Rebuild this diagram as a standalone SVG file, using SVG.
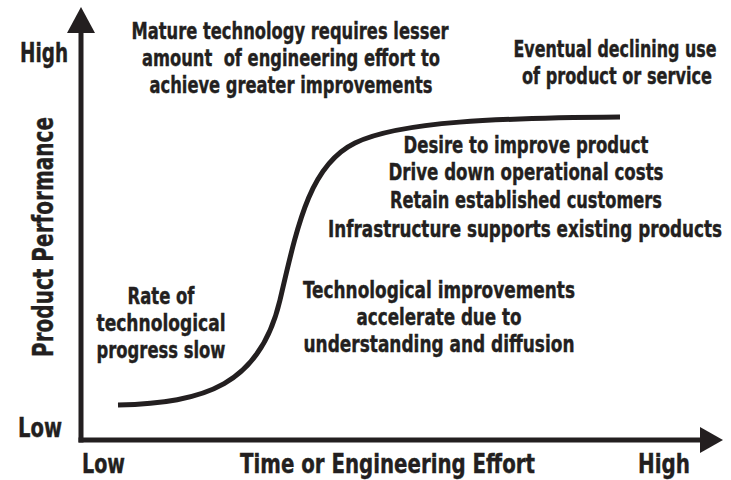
<svg xmlns="http://www.w3.org/2000/svg" width="731" height="480" viewBox="0 0 731 480">
<style>
text{font-family:"Liberation Sans Narrow","DejaVu Sans Condensed","Roboto Condensed","Liberation Sans",sans-serif;font-weight:bold;fill:#231f20;stroke:#231f20;stroke-width:0.4;}
.b{font-size:23.5px;text-anchor:middle;}
.l{font-size:27px;}
.ax{stroke:#231f20;stroke-width:5;fill:none;}
.hd{fill:#231f20;stroke:none;}
</style>
<rect width="731" height="480" fill="#ffffff"/>
<g id="axes">
<line class="ax" x1="81" y1="442.5" x2="81" y2="28"/>
<polygon class="hd" points="81,7 67,33 95,33"/>
<line class="ax" x1="78.5" y1="440" x2="704" y2="440"/>
<polygon class="hd" points="723,440 700,427 700,453"/>
</g>
<g id="connectors">
<path id="s-curve" class="ax" d="M118,405 C205,403 260,385 280,300 C298,223 310,165 355,143 C400,121 500,118 620,117"/>
</g>
<g id="axis-labels">
<text class="l" transform="translate(20,62) scale(0.75,1)" textLength="64" lengthAdjust="spacingAndGlyphs">High</text>
<text class="l" transform="translate(18,437) scale(0.75,1)" textLength="58.7" lengthAdjust="spacingAndGlyphs">Low</text>
<text class="l" transform="translate(82,473) scale(0.75,1)" textLength="57.3" lengthAdjust="spacingAndGlyphs">Low</text>
<text class="l" transform="translate(240,473) scale(0.75,1)" textLength="393.3" lengthAdjust="spacingAndGlyphs">Time or Engineering Effort</text>
<text class="l" transform="translate(638,473) scale(0.75,1)" textLength="69.3" lengthAdjust="spacingAndGlyphs">High</text>
<text style="font-size:28px;text-anchor:middle" transform="translate(53,237) rotate(-90) scale(0.78,1)" textLength="307.7" lengthAdjust="spacingAndGlyphs">Product Performance</text>
</g>
<g id="note-mature">
<text class="b" transform="translate(290,39) scale(0.75,1)" textLength="422.7" lengthAdjust="spacingAndGlyphs">Mature technology requires lesser</text>
<text class="b" transform="translate(291,66) scale(0.75,1)" textLength="397.3" lengthAdjust="spacingAndGlyphs" xml:space="preserve">amount  of engineering effort to</text>
<text class="b" transform="translate(291,93) scale(0.75,1)" textLength="377.3" lengthAdjust="spacingAndGlyphs">achieve greater improvements</text>
</g>
<g id="note-declining">
<text class="b" transform="translate(615,57) scale(0.75,1)" textLength="270.7" lengthAdjust="spacingAndGlyphs">Eventual declining use</text>
<text class="b" transform="translate(617,84) scale(0.75,1)" textLength="253.3" lengthAdjust="spacingAndGlyphs">of product or service</text>
</g>
<g id="note-maturity">
<text class="b" transform="translate(526,153) scale(0.75,1)" textLength="326.7" lengthAdjust="spacingAndGlyphs">Desire to improve product</text>
<text class="b" transform="translate(526,180) scale(0.75,1)" textLength="366.7" lengthAdjust="spacingAndGlyphs">Drive down operational costs</text>
<text class="b" transform="translate(526,208) scale(0.75,1)" textLength="362.7" lengthAdjust="spacingAndGlyphs">Retain established customers</text>
<text class="b" transform="translate(525,237) scale(0.75,1)" textLength="525.3" lengthAdjust="spacingAndGlyphs">Infrastructure supports existing products</text>
</g>
<g id="note-accelerate">
<text class="b" transform="translate(439,298) scale(0.75,1)" textLength="362.7" lengthAdjust="spacingAndGlyphs">Technological improvements</text>
<text class="b" transform="translate(439,325) scale(0.75,1)" textLength="220" lengthAdjust="spacingAndGlyphs">accelerate due to</text>
<text class="b" transform="translate(439,352) scale(0.75,1)" textLength="361.3" lengthAdjust="spacingAndGlyphs">understanding and diffusion</text>
</g>
<g id="note-slow">
<text class="b" transform="translate(161,304) scale(0.75,1)" textLength="89.3" lengthAdjust="spacingAndGlyphs">Rate of</text>
<text class="b" transform="translate(161,331) scale(0.75,1)" textLength="172" lengthAdjust="spacingAndGlyphs">technological</text>
<text class="b" transform="translate(161,358) scale(0.75,1)" textLength="172" lengthAdjust="spacingAndGlyphs">progress slow</text>
</g>
</svg>
